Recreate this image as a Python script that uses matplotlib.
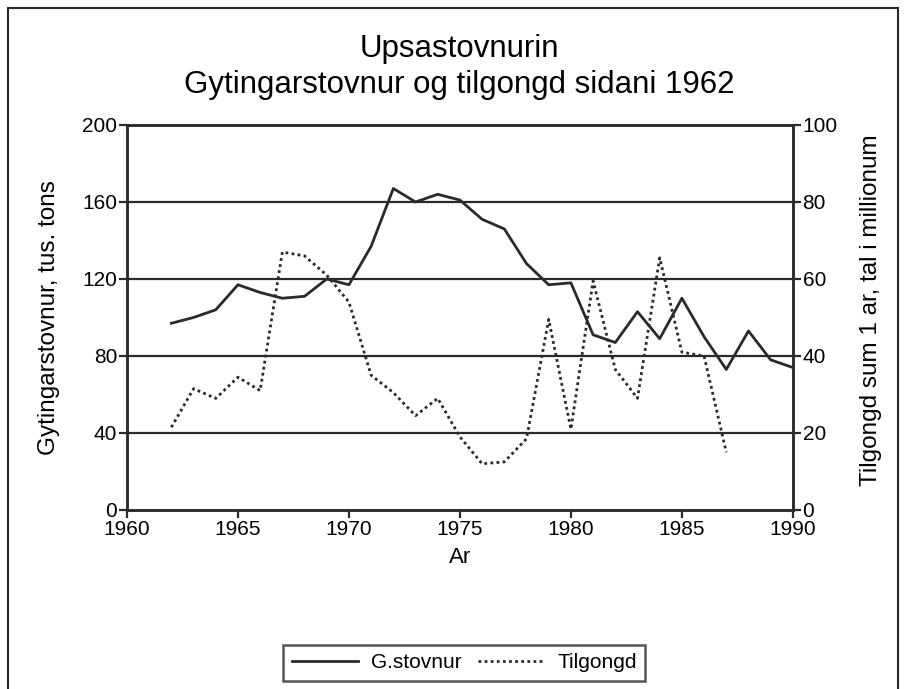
import matplotlib
matplotlib.use("Agg")
import matplotlib.pyplot as plt
from matplotlib.patches import Rectangle
from matplotlib.lines import Line2D

plt.rcParams['font.family'] = ['Liberation Sans', 'DejaVu Sans']

# data
years = list(range(1962, 1991))
gytingarstovnur = [97, 100, 104, 117, 113, 110, 111, 120, 117, 137,
                   167, 160, 164, 161, 151, 146, 128, 117, 118, 91,
                   87, 103, 89, 110, 90, 73, 93, 78, 74]
tilgongd_years = list(range(1962, 1988))
tilgongd = [21.5, 31.5, 29, 34.5, 31, 67, 66, 61, 54, 35,
            30.5, 24.5, 29, 19, 12, 12.5, 18.5, 49.5, 21, 59.5,
            36.5, 29, 65.5, 41, 40, 15]

title_1 = "Upsastovnurin"
title_2 = "Gytingarstovnur og tilgongd sidani 1962"
left_label = "Gytingarstovnur, tus. tons"
right_label = "Tilgongd sum 1 ar, tal i millionum"

fig = plt.figure(figsize=(9.05, 6.89), dpi=100)
ax = fig.add_axes([0.1403, 0.2598, 0.7358, 0.5588])
ax2 = ax.twinx()

ink = '#2a2a2a'

for y in [40, 80, 120, 160]:
    ax.axhline(y, color=ink, lw=1.6, zorder=1)

ax.plot(years, gytingarstovnur, color=ink, lw=2, zorder=3)
ax2.plot(tilgongd_years, tilgongd, color=ink, lw=2, linestyle=(0, (1, 1.2)), zorder=3)

ax.set_xlim(1960, 1990)
ax.set_ylim(0, 200)
ax2.set_ylim(0, 100)
ax.set_xticks([1960, 1965, 1970, 1975, 1980, 1985, 1990])
ax.set_yticks([0, 40, 80, 120, 160, 200])
ax2.set_yticks([0, 20, 40, 60, 80, 100])

for a in (ax, ax2):
    for s in a.spines.values():
        s.set_color(ink)
        s.set_linewidth(1.8)
    a.tick_params(labelsize=15, colors='black', width=1.6, length=6, direction='out', pad=1)
    a.tick_params(axis='both', color=ink)

ax.set_xlabel("Ar", fontsize=16, labelpad=6)
ax.set_ylabel(left_label, fontsize=17.5)
ax2.set_ylabel(right_label, fontsize=17.5)
ax.yaxis.set_label_coords(-0.1006, 0.5)
ax2.yaxis.set_label_coords(1.1006, 0.52)

fig.text(0.508, 0.9173, title_1, ha='center', va='baseline', fontsize=22.5)
fig.text(0.508, 0.865, title_2, ha='center', va='baseline', fontsize=22.5)

handles = [Line2D([], [], color=ink, lw=2),
           Line2D([], [], color=ink, lw=2, linestyle=(0, (1, 1.2)))]
leg = fig.legend(handles, ["G.stovnur", "Tilgongd"], loc='center',
                 bbox_to_anchor=(0.513, 0.038), ncol=2, fontsize=15,
                 frameon=True, fancybox=False, handlelength=3.2,
                 columnspacing=0.8, handletextpad=0.6, borderpad=0.4)
leg.get_frame().set_edgecolor(ink)
leg.get_frame().set_linewidth(1.8)

# outer frame of the scanned page
fig.patches.append(Rectangle((8 / 905, -0.02), 890 / 905, 1 - 8 / 689 + 0.02,
                             transform=fig.transFigure, fill=False,
                             edgecolor=ink, lw=1.5))

fig.savefig("out.png", dpi=100)
